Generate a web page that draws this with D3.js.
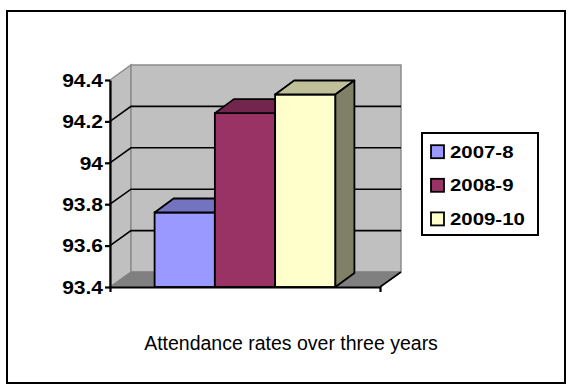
<!DOCTYPE html>
<html>
<head>
<meta charset="utf-8">
<script src="https://cdn.jsdelivr.net/npm/d3@7/dist/d3.min.js"></script>
<style>
    body { margin: 0; background: #fff; }
    text { font-family: "Liberation Sans", Arial, sans-serif; }
</style>
</head>
<body>
<div id="chart"></div>
<script>
// data
const seriesNames = ["2007-8", "2008-9", "2009-10"];
const seriesValues = [93.76, 94.24, 94.33];
const yTicks = [93.4, 93.6, 93.8, 94.0, 94.2, 94.4];
const yTickLabels = ["93.4", "93.6", "93.8", "94", "94.2", "94.4"];
const chartTitle = "Attendance rates over three years";

// excel-ish colours: front, top, side
const fronts = ["#9999ff", "#993366", "#ffffcc"];
const tops = ["#7373bf", "#73264d", "#bfbf99"];
const sides = ["#4d4d80", "#4d1933", "#808066"];

const W = 572, H = 390;
const stretch = 1.2; // the text in the original is widened

const svg = d3.select("#chart").append("svg")
    .attr("width", W)
    .attr("height", H);

// outer frame
svg.append("rect")
    .attr("x", 7).attr("y", 11)
    .attr("width", 558).attr("height", 372)
    .attr("fill", "#fff")
    .attr("stroke", "#000")
    .attr("stroke-width", 2);

let x0 = 110, x1 = 380;
let yBot = 287;
let dx = 21, dy = -15;      // wall depth
let bdx = 19, bdy = -14;    // bar depth

let y = d3.scaleLinear()
    .domain([yTicks[0], yTicks[yTicks.length - 1]])
    .range([yBot, 80]);

let x = d3.scaleBand()
    .domain(seriesNames)
    .range([x0, x1])
    .paddingInner(0)
    .paddingOuter(0.74);

let pts = function(arr) { return arr.map(p => p.join(",")).join(" "); };

let yMax = y(yTicks[yTicks.length - 1]);

// side wall
svg.append("polygon")
    .attr("points", pts([[x0, yMax], [x0 + dx, yMax + dy], [x0 + dx, yBot + dy], [x0, yBot]]))
    .attr("fill", "#c0c0c0")
    .attr("stroke", "#8c8c8c")
    .attr("stroke-width", 1.5);

// back wall
svg.append("rect")
    .attr("x", x0 + dx).attr("y", yMax + dy)
    .attr("width", x1 - x0).attr("height", yBot - yMax)
    .attr("fill", "#c0c0c0")
    .attr("stroke", "#8c8c8c")
    .attr("stroke-width", 1.5);

// floor
svg.append("polygon")
    .attr("points", pts([[x0, yBot], [x1, yBot], [x1 + dx, yBot + dy], [x0 + dx, yBot + dy]]))
    .attr("fill", "#808080")
    .attr("stroke", "#808080")
    .attr("stroke-width", 1);

// gridlines (side wall diagonal + back wall)
svg.selectAll(".grid")
    .data(yTicks.slice(1, -1))
    .enter()
    .append("path")
    .attr("class", "grid")
    .attr("d", d => `M${x0},${y(d)} L${x0 + dx},${y(d) + dy} L${x1 + dx},${y(d) + dy}`)
    .attr("fill", "none")
    .attr("stroke", "#000")
    .attr("stroke-width", 1.6);

// floor right edge
svg.append("line")
    .attr("x1", x1).attr("y1", yBot)
    .attr("x2", x1 + dx).attr("y2", yBot + dy)
    .attr("stroke", "#000")
    .attr("stroke-width", 1.6);

// bars, left to right so each covers the side of the previous one
let bars = svg.selectAll(".bar")
    .data(seriesNames.map((s, i) => ({name: s, value: seriesValues[i], i: i})))
    .enter()
    .append("g")
    .attr("class", "bar");

bars.append("rect")
    .attr("x", d => x(d.name))
    .attr("y", d => y(d.value))
    .attr("width", x.bandwidth())
    .attr("height", d => yBot - y(d.value))
    .attr("fill", d => fronts[d.i])
    .attr("stroke", "#000")
    .attr("stroke-width", 1.8);

bars.append("polygon")
    .attr("points", d => {
        let a = x(d.name), b = a + x.bandwidth(), t = y(d.value);
        return pts([[a, t], [b, t], [b + bdx, t + bdy], [a + bdx, t + bdy]]);
    })
    .attr("fill", d => tops[d.i])
    .attr("stroke", "#000")
    .attr("stroke-width", 1.8)
    .attr("stroke-linejoin", "round");

bars.append("polygon")
    .attr("points", d => {
        let b = x(d.name) + x.bandwidth(), t = y(d.value);
        return pts([[b, t], [b + bdx, t + bdy], [b + bdx, yBot + bdy], [b, yBot]]);
    })
    .attr("fill", d => sides[d.i])
    .attr("stroke", "#000")
    .attr("stroke-width", 1.8)
    .attr("stroke-linejoin", "round");

// y axis
let yAxis = svg.append("g")
    .attr("transform", `translate(${x0},0)`)
    .call(d3.axisLeft(y)
        .tickValues(yTicks)
        .tickSize(5)
        .tickSizeOuter(0)
        .tickFormat((d, i) => yTickLabels[i]));

yAxis.selectAll("path, line")
    .attr("stroke", "#000")
    .attr("stroke-width", 2.2);

yAxis.selectAll("text")
    .attr("x", null)
    .attr("dy", "0.36em")
    .attr("transform", `translate(-7,0) scale(${stretch},1)`)
    .style("font-family", "'Liberation Sans', Arial, sans-serif")
    .style("font-size", "17.5px")
    .style("font-weight", "bold")
    .attr("fill", "#000");

// x axis: just the front edge with an end tick
let xAxis = svg.append("g")
    .attr("transform", `translate(0,${yBot})`)
    .call(d3.axisBottom(d3.scaleLinear().range([x0, x1]))
        .tickValues([])
        .tickSizeOuter(5));

xAxis.select(".domain")
    .attr("stroke", "#000")
    .attr("stroke-width", 2.2);

// legend
let legend = svg.append("g");

legend.append("rect")
    .attr("x", 422).attr("y", 133)
    .attr("width", 116).attr("height", 102)
    .attr("fill", "#fff")
    .attr("stroke", "#000")
    .attr("stroke-width", 2);

let items = legend.selectAll(".item")
    .data(seriesNames)
    .enter()
    .append("g")
    .attr("class", "item")
    .attr("transform", (d, i) => `translate(431,${151.7 + i * 33.6})`);

items.append("rect")
    .attr("x", 0).attr("y", -6.5)
    .attr("width", 13).attr("height", 13)
    .attr("fill", (d, i) => fronts[i])
    .attr("stroke", "#000")
    .attr("stroke-width", 1.8);

items.append("text")
    .attr("transform", `translate(19,0) scale(${stretch},1)`)
    .attr("dy", "0.36em")
    .style("font-size", "17px")
    .style("font-weight", "bold")
    .text(d => d);

// title
svg.append("text")
    .attr("x", 291)
    .attr("y", 350)
    .attr("text-anchor", "middle")
    .style("font-size", "19.5px")
    .text(chartTitle);
</script>
</body>
</html>
